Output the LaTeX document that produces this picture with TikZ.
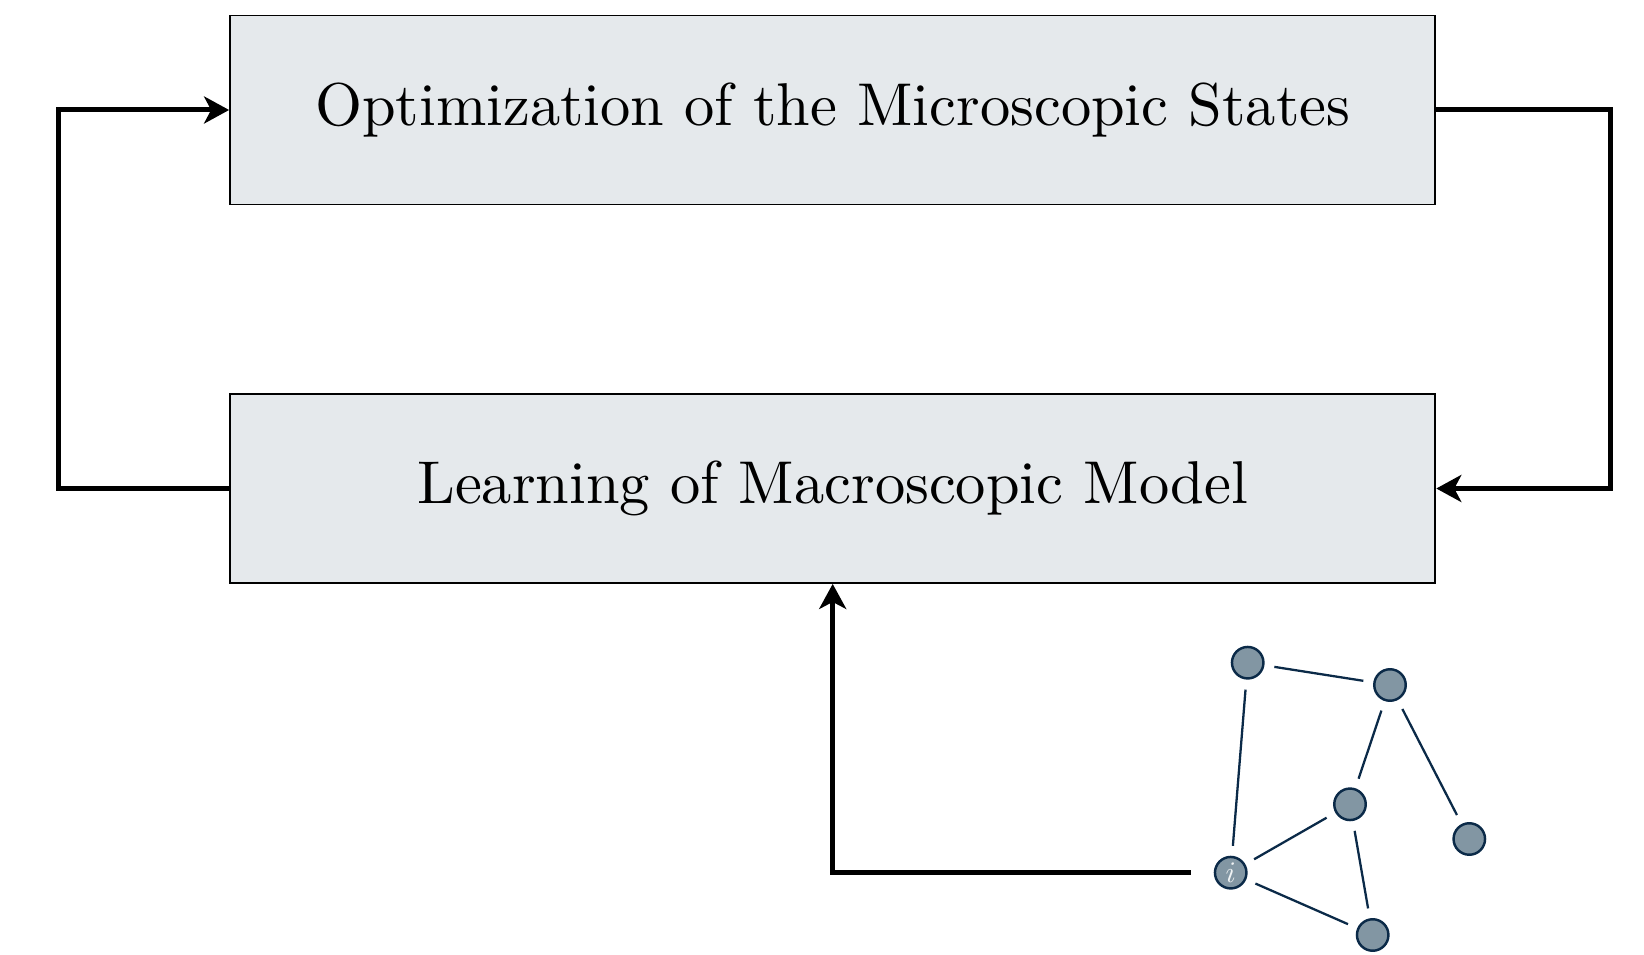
\documentclass[tikz,border=0pt]{standalone}
\usepackage{graphicx}
\usetikzlibrary{arrows.meta}
\definecolor{boxfill}{HTML}{E5E9EC}
\definecolor{agentfill}{HTML}{8296A3}
\definecolor{agentline}{HTML}{0B2A48}
\newcommand{\stagetext}[1]{\scalebox{3.44}{\fontsize{10}{12}\selectfont #1}}
\begin{document}
\begin{tikzpicture}[x=0.02cm, y=-0.02cm,
  stage/.style={draw=black, line width=1.1pt, fill=boxfill,
    minimum width=24.11cm, minimum height=3.78cm, inner sep=0pt},
  flow/.style={line width=2.85pt, -{Stealth[length=0.5cm, width=0.54cm, inset=0.14cm]}},
  agent/.style={circle, draw=agentline, fill=agentfill, line width=1.4pt,
    minimum size=0.63cm, inner sep=0pt},
  link/.style={agentline, line width=1.3pt, shorten <=0.2cm, shorten >=0.2cm}]
  \useasboundingbox (0,0) rectangle (1644,955);

  % the two stages of the loop
  \node[stage] (opt) at (832.7,110) {\stagetext{Optimization of the Microscopic States}};
  \node[stage] (learn) at (832.7,488.5) {\stagetext{Learning of Macroscopic Model}};

  % interacting agents
  \node[agent] (a) at (1247.7,662.7) {};
  \node[agent] (b) at (1390,685) {};
  \node[agent] (c) at (1350,804.3) {};
  \node[agent] (d) at (1469.3,839) {};
  \node[agent] (i) at (1230.7,872.7) {\color{white!88!agentfill}\scalebox{1.7}{\fontsize{10}{12}\selectfont$i$}};
  \node[agent] (e) at (1372.7,935) {};

  \draw[link] (a) -- (b);
  \draw[link] (a) -- (i);
  \draw[link] (b) -- (c);
  \draw[link] (b) -- (d);
  \draw[link] (c) -- (i);
  \draw[link] (c) -- (e);
  \draw[link] (i) -- (e);

  % feedback loop
  \draw[flow] (learn.west) -- ++(-171,0) |- (opt.west);
  \draw[flow] (opt.east) -- ++(174.5,0) |- (learn.east);
  \draw[flow, shorten <=0.8cm] (i.center) -| (learn.south);
\end{tikzpicture}
\end{document}
